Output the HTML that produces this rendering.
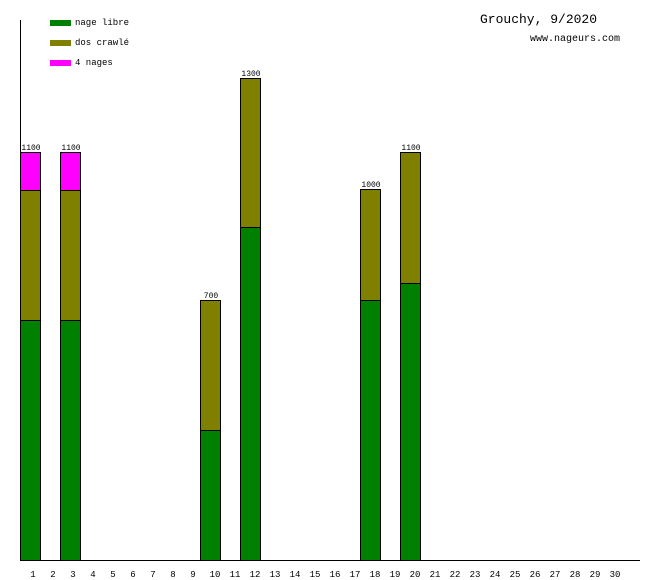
<!DOCTYPE html>
<html><head><meta charset="utf-8"><style>body{margin:0;background:#fff}svg{display:block}</style></head><body>
<svg width="660" height="580" xmlns="http://www.w3.org/2000/svg" font-family="Liberation Mono, monospace">
<rect width="660" height="580" fill="#fff"/>
<rect x="50" y="20" width="21" height="6" fill="#008000"/>
<rect x="50" y="40" width="21" height="6" fill="#808000"/>
<rect x="50" y="60" width="21" height="6" fill="#ff00ff"/>
<g font-size="9" fill="#000">
<text x="75" y="25">nage libre</text>
<text x="75" y="45">dos crawlé</text>
<text x="75" y="65">4 nages</text>
</g>
<text x="480" y="23" font-size="13">Grouchy, 9/2020</text>
<text x="530" y="41" font-size="10">www.nageurs.com</text>
<g stroke="#000" stroke-width="1">
<rect x="20.5" y="320.5" width="20" height="240" fill="#008000"/>
<rect x="20.5" y="190.5" width="20" height="130" fill="#808000"/>
<rect x="20.5" y="152.5" width="20" height="38" fill="#ff00ff"/>
<rect x="60.5" y="320.5" width="20" height="240" fill="#008000"/>
<rect x="60.5" y="190.5" width="20" height="130" fill="#808000"/>
<rect x="60.5" y="152.5" width="20" height="38" fill="#ff00ff"/>
<rect x="200.5" y="430.5" width="20" height="130" fill="#008000"/>
<rect x="200.5" y="300.5" width="20" height="130" fill="#808000"/>
<rect x="240.5" y="227.5" width="20" height="333" fill="#008000"/>
<rect x="240.5" y="78.5" width="20" height="149" fill="#808000"/>
<rect x="360.5" y="300.5" width="20" height="260" fill="#008000"/>
<rect x="360.5" y="189.5" width="20" height="111" fill="#808000"/>
<rect x="400.5" y="283.5" width="20" height="277" fill="#008000"/>
<rect x="400.5" y="152.5" width="20" height="131" fill="#808000"/>
</g>
<g font-size="8" fill="#000" text-anchor="middle">
<text x="31" y="150">1100</text>
<text x="71" y="150">1100</text>
<text x="211" y="298">700</text>
<text x="251" y="76">1300</text>
<text x="371" y="187">1000</text>
<text x="411" y="150">1100</text>
</g>
<line x1="20.5" y1="20" x2="20.5" y2="561" stroke="#000"/>
<line x1="20" y1="560.5" x2="640" y2="560.5" stroke="#000"/>
<g font-size="9" fill="#000" text-anchor="middle">
<text x="33" y="577">1</text><text x="53" y="577">2</text><text x="73" y="577">3</text><text x="93" y="577">4</text><text x="113" y="577">5</text><text x="133" y="577">6</text><text x="153" y="577">7</text><text x="173" y="577">8</text><text x="193" y="577">9</text><text x="215" y="577">10</text><text x="235" y="577">11</text><text x="255" y="577">12</text><text x="275" y="577">13</text><text x="295" y="577">14</text><text x="315" y="577">15</text><text x="335" y="577">16</text><text x="355" y="577">17</text><text x="375" y="577">18</text><text x="395" y="577">19</text><text x="415" y="577">20</text><text x="435" y="577">21</text><text x="455" y="577">22</text><text x="475" y="577">23</text><text x="495" y="577">24</text><text x="515" y="577">25</text><text x="535" y="577">26</text><text x="555" y="577">27</text><text x="575" y="577">28</text><text x="595" y="577">29</text><text x="615" y="577">30</text>
</g>
</svg>
</body></html>
